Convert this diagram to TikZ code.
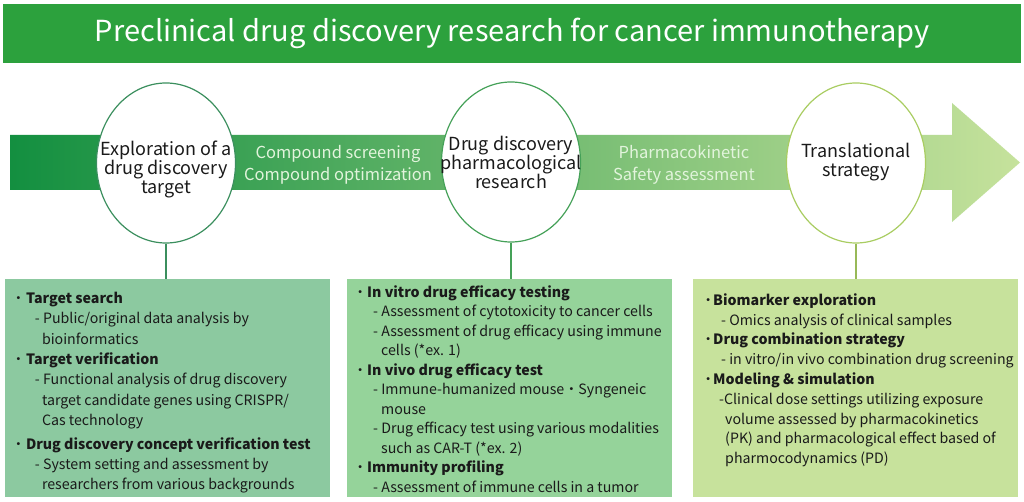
\documentclass[tikz,border=0pt]{standalone}
\usepackage{fontspec}
\setmainfont{Noto Sans CJK JP}
\usetikzlibrary{shapes.geometric}
\definecolor{titlegreen}{HTML}{2CA13D}
\definecolor{arrowA}{HTML}{138F40}
\definecolor{arrowB}{HTML}{6AB85E}
\definecolor{arrowC}{HTML}{C6E29C}
\definecolor{ringA}{HTML}{3B8F5E}
\definecolor{ringB}{HTML}{45A158}
\definecolor{ringC}{HTML}{A9CD62}
\definecolor{boxA}{HTML}{8CC9A0}
\definecolor{boxB}{HTML}{95D39A}
\definecolor{boxC}{HTML}{C7E29C}
\definecolor{paletext}{HTML}{E2F4DC}
\definecolor{inktext}{HTML}{1A1A1A}
\newcommand\bul[1]{\makebox[#1][c]{・}}
\newcommand\topstrut{\rule{0pt}{13pt}}
\begin{document}
\begin{tikzpicture}[x=1pt,y=-1pt,
  titlebar/.style={fill=titlegreen, inner sep=0, text=white, font=\fontsize{29}{30}\selectfont},
  stage/.style={ellipse, draw, fill=white, line width=1.2pt, minimum width=139pt, minimum height=160pt, inner sep=0},
  stagetext/.style={align=center, inner sep=0, text=inktext, font=\fontsize{18}{19}\selectfont},
  flowtext/.style={align=center, inner sep=0, text=paletext, font=\fontsize{16.5}{22}\selectfont},
  panel/.style={inner sep=0, minimum width=325pt, minimum height=218pt, anchor=north west},
  paneltext/.style={align=left, inner sep=0, text=inktext, anchor=north west},
  link/.style={line width=2pt}
]
\useasboundingbox (0,0) rectangle (1024,502);
\fill[white] (0,0) rectangle (1024,502);
\node[titlebar, minimum width=1018pt, minimum height=59pt, anchor=north west] (title) at (3,4) {Preclinical drug discovery research for cancer immunotherapy};
% arrow
\shade[left color=arrowA, middle color=arrowB, right color=arrowC]
  (10,135) -- (952,135) -- (952,103) -- (1020,162.5) -- (952,222) -- (952,190) -- (10,190) -- cycle;
% flow labels
\node[flowtext] (f1) at (338,165) {Compound screening\\Compound optimization};
\node[flowtext] (f2) at (684,165) {Pharmacokinetic\\Safety assessment};
% stages
\node[stage, draw=ringA] (e1) at (166,163) {};
\node[stage, draw=ringB] (e2) at (511,162) {};
\node[stage, draw=ringC] (e3) at (856,163) {};
\node[stagetext] (s1) at (e1.center) [yshift=-6pt] {Exploration of a\\drug discovery\\target};
\node[stagetext] (s2) at (e2.center) {Drug discovery\\pharmacological\\research};
\node[stagetext] (s3) at (e3.center) [yshift=1pt] {Translational\\strategy};
% panels
\node[panel, fill=boxA] (b1) at (5,279) {};
\node[panel, fill=boxB] (b2) at (347,279) {};
\node[panel, fill=boxC] (b3) at (693,279) {};
\draw[link, ringA] (e1.south) -- (b1.north -| e1.south);
\draw[link, ringB] (e2.south) -- (b2.north -| e2.south);
\draw[link, ringC!90!black] (e3.south) -- (b3.north -| e3.south);
% panel texts
\node[paneltext, font=\fontsize{14.2}{20.4}\selectfont] (p1) at (10.8,290) {\topstrut\bul{15pt}\textbf{Target search}\\
\hspace*{24pt}- Public/original data analysis by\\
\hspace*{31pt}bioinformatics\\
\bul{15pt}\textbf{Target verification}\\
\hspace*{24pt}- Functional analysis of drug discovery\\
\hspace*{31pt}target candidate genes using CRISPR/\\
\hspace*{31pt}Cas technology\\[3pt]
\bul{15pt}\textbf{Drug discovery concept verification test}\\
\hspace*{24pt}- System setting and assessment by\\
\hspace*{31pt}researchers from various backgrounds};
\node[paneltext, font=\fontsize{14.2}{19.5}\selectfont] (p2) at (353,284) {\topstrut\bul{14pt}\textbf{In vitro drug efficacy testing}\\
\hspace*{20pt}- Assessment of cytotoxicity to cancer cells\\
\hspace*{20pt}- Assessment of drug efficacy using immune\\
\hspace*{28pt}cells (*ex. 1)\\
\bul{14pt}\textbf{In vivo drug efficacy test}\\
\hspace*{20pt}- Immune-humanized mouse・Syngeneic\\
\hspace*{28pt}mouse\\
\hspace*{20pt}- Drug efficacy test using various modalities\\
\hspace*{28pt}such as CAR-T (*ex. 2)\\
\bul{14pt}\textbf{Immunity profiling}\\
\hspace*{20pt}- Assessment of immune cells in a tumor};
\node[paneltext, font=\fontsize{14.2}{19.8}\selectfont] (p3) at (703,292) {\topstrut\bul{10pt}\textbf{Biomarker exploration}\\
\hspace*{18pt}- Omics analysis of clinical samples\\
\bul{10pt}\textbf{Drug combination strategy}\\
\hspace*{18pt}- in vitro/in vivo combination drug screening\\
\bul{10pt}\textbf{Modeling \& simulation}\\
\hspace*{16pt}-Clinical dose settings utilizing exposure\\
\hspace*{22pt}volume assessed by pharmacokinetics\\
\hspace*{22pt}(PK) and pharmacological effect based of\\
\hspace*{22pt}pharmocodynamics (PD)};
\end{tikzpicture}
\end{document}
